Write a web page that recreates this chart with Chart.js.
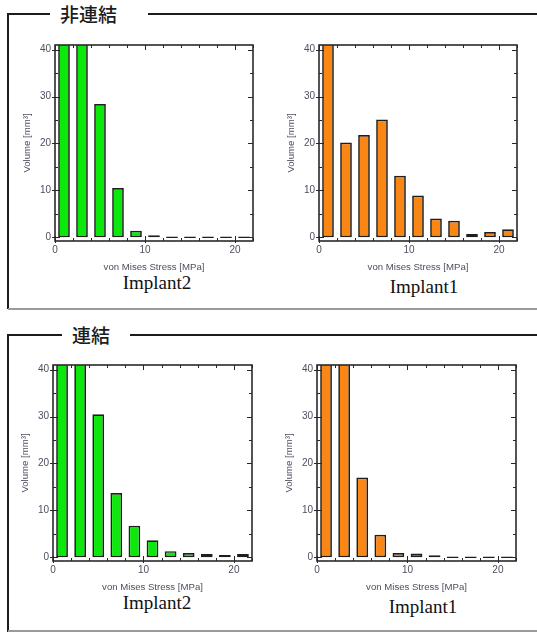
<!DOCTYPE html>
<html><head><meta charset="utf-8">
<script src="https://cdn.jsdelivr.net/npm/chart.js@4"></script>
<style>
html,body{margin:0;padding:0;background:#fff}
body{width:537px;height:632px;position:relative;overflow:hidden;font-family:"Liberation Sans",Arial,sans-serif}
.ln{position:absolute;background:#1c1c1c}
.lg{position:absolute;background:#9a9a9a}
.hd{position:absolute;font-family:"Noto Sans CJK JP",sans-serif;font-size:19px;line-height:19px;font-weight:500;color:#1c1c1c;white-space:nowrap}
.cap{position:absolute;font-family:"Liberation Serif","Times New Roman",serif;font-size:19px;line-height:20px;color:#111;transform:translate(-50%,-50%);white-space:nowrap}
.cv{position:absolute}
</style></head><body>

<!-- box 1 -->
<div class="ln" style="left:7px;top:13px;width:43px;height:2px"></div>
<div class="ln" style="left:148px;top:13px;width:389px;height:2px"></div>
<div class="ln" style="left:7px;top:13px;width:2px;height:296px"></div>
<div class="lg" style="left:8px;top:308px;width:529px;height:1.5px"></div>
<div class="hd" style="left:60px;top:4px">非連結</div>
<!-- box 2 -->
<div class="ln" style="left:7px;top:334px;width:55px;height:2px"></div>
<div class="ln" style="left:130px;top:334px;width:407px;height:2px"></div>
<div class="ln" style="left:7px;top:334px;width:2px;height:298px"></div>
<div class="lg" style="left:8px;top:630px;width:529px;height:1.5px"></div>
<div class="hd" style="left:72px;top:325px">連結</div>

<div class="cap" style="left:157px;top:283px">Implant2</div>
<div class="cap" style="left:424px;top:287px">Implant1</div>
<div class="cap" style="left:157px;top:603px">Implant2</div>
<div class="cap" style="left:423px;top:607px">Implant1</div>

<script>
// ---- data ----
const binCenters = [1, 3, 5, 7, 9, 11, 13, 15, 17, 19, 21]; // von Mises Stress [MPa]
const unlinkedImplant2 = [50, 50, 28.4, 10.5, 1.4, 0.4, 0, 0, 0, 0, 0];
const unlinkedImplant1 = [50, 20.2, 21.8, 25.1, 13.1, 8.9, 4.0, 3.5, 0.7, 1.1, 1.7];
const linkedImplant2 = [50, 50, 30.5, 13.7, 6.7, 3.6, 1.3, 0.9, 0.7, 0.5, 0.7];
const linkedImplant1 = [50, 50, 17.0, 4.8, 0.9, 0.8, 0.4, 0, 0, 0, 0];
const xTicks = [0, 10, 20];
const yTicks = [0, 10, 20, 30, 40];
const xMinorTicks = [0, 2, 4, 6, 8, 10, 12, 14, 16, 18, 20, 22];
const yMinorTicks = [0, 5, 10, 15, 20, 25, 30, 35, 40];
const xTitle = 'von Mises Stress [MPa]';
const yTitle = 'Volume [mm³]';

const GREEN = '#0ce80c';
const ORANGE = '#fa8616';
const LABEL = '#4e4e60';

const framePlugin = {
  id: 'frame',
  afterDatasetsDraw(chart) {
    const {ctx, chartArea: a, scales: {x, y}} = chart;
    ctx.save();
    ctx.strokeStyle = '#262626';
    ctx.lineWidth = 1;
    ctx.beginPath();
    for (const v of xMinorTicks) {
      const p = Math.round(x.getPixelForValue(v)) + 0.5;
      const major = xTicks.includes(v);
      const inLen = major ? 5 : 3;
      ctx.moveTo(p, a.bottom + (major ? 2 : 0)); ctx.lineTo(p, a.bottom - inLen);
      ctx.moveTo(p, a.top); ctx.lineTo(p, a.top + inLen);
    }
    for (const v of yMinorTicks) {
      const p = Math.round(y.getPixelForValue(v)) + 0.5;
      const major = yTicks.includes(v);
      const inLen = major ? 5 : 3;
      ctx.moveTo(a.left - (major ? 3 : 0), p); ctx.lineTo(a.left + inLen, p);
      ctx.moveTo(a.right, p); ctx.lineTo(a.right - inLen, p);
    }
    ctx.stroke();
    ctx.lineWidth = 1.6;
    ctx.strokeStyle = '#2a2a2a';
    ctx.strokeRect(a.left, a.top, a.right - a.left, a.bottom - a.top);
    ctx.restore();
  }
};

function makeChart(values, color, area) {
  const padL = 40, padT = 8, padR = 8, xh = 32;
  const w = (area.right - area.left) + padL + padR;
  const h = (area.bottom - area.top) + padT + xh;
  const div = document.createElement('div');
  div.className = 'cv';
  div.style.left = (area.left - padL) + 'px';
  div.style.top = (area.top - padT) + 'px';
  div.style.width = w + 'px';
  div.style.height = h + 'px';
  const cv = document.createElement('canvas');
  div.appendChild(cv);
  document.body.appendChild(div);
  new Chart(cv, {
    type: 'bar',
    data: {
      datasets: [{
        data: binCenters.map((c, i) => ({x: c, y: values[i]})),
        backgroundColor: color,
        borderColor: '#1e1e1e',
        borderWidth: 1.7,
        borderSkipped: false,
        minBarLength: 1.5,
        barPercentage: 0.65,
        categoryPercentage: 1.0
      }]
    },
    options: {
      responsive: true,
      maintainAspectRatio: false,
      animation: false,
      devicePixelRatio: 1,
      layout: {padding: {top: padT, right: padR, left: 0, bottom: 0}},
      plugins: {legend: {display: false}, tooltip: {enabled: false}},
      scales: {
        x: {
          type: 'linear', min: 0, max: 22, offset: false,
          grid: {display: false, drawTicks: false, offset: false},
          border: {display: false},
          afterBuildTicks: s => { s.ticks = xTicks.map(v => ({value: v})); },
          afterFit: s => { s.height = xh; },
          ticks: {padding: 3, color: LABEL, font: {family: 'Liberation Sans', size: 10}, maxRotation: 0, autoSkip: false},
          title: {display: true, text: xTitle, color: LABEL, padding: 0, font: {family: 'Liberation Sans', size: 9.6}}
        },
        y: {
          min: -0.8, max: 41,
          grid: {display: false, drawTicks: false},
          border: {display: false},
          afterBuildTicks: s => { s.ticks = yTicks.map(v => ({value: v})); },
          afterFit: s => { s.width = padL; },
          ticks: {padding: 4, color: LABEL, font: {family: 'Liberation Sans', size: 10}},
          title: {display: true, text: yTitle, color: LABEL, padding: {top: 7, bottom: 0}, font: {family: 'Liberation Sans', size: 9.6}}
        }
      }
    },
    plugins: [framePlugin]
  });
}

makeChart(unlinkedImplant2, GREEN, {left: 55, right: 253, top: 43, bottom: 241});
makeChart(unlinkedImplant1, ORANGE, {left: 319, right: 517, top: 43, bottom: 241});
makeChart(linkedImplant2, GREEN, {left: 53, right: 252, top: 363, bottom: 561});
makeChart(linkedImplant1, ORANGE, {left: 317, right: 516, top: 363, bottom: 561});
</script>
</body></html>
